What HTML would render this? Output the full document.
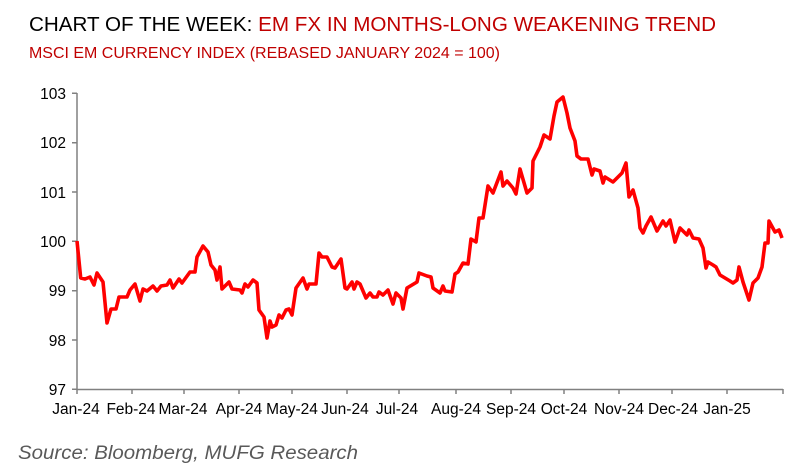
<!DOCTYPE html>
<html><head><meta charset="utf-8"><style>
html,body{margin:0;padding:0;background:#fff;width:811px;height:467px;overflow:hidden}
svg{display:block;font-family:"Liberation Sans",Arial,sans-serif}
</style></head><body>
<svg width="811" height="467" viewBox="0 0 811 467">
<text x="29" y="31" font-size="20" textLength="687" lengthAdjust="spacingAndGlyphs"><tspan fill="#000">CHART OF THE WEEK: </tspan><tspan fill="#c00000">EM FX IN MONTHS-LONG WEAKENING TREND</tspan></text>
<text x="29" y="58" font-size="16" fill="#c00000" textLength="471" lengthAdjust="spacingAndGlyphs">MSCI EM CURRENCY INDEX (REBASED JANUARY 2024 = 100)</text>
<g stroke="#808080" stroke-width="1.5" fill="none">
<line x1="77" y1="93" x2="77" y2="389.5"/>
<line x1="77" y1="389.5" x2="783" y2="389.5"/>
<path d="M72 93.3H77M72 142.7H77M72 192H77M72 241.3H77M72 290.7H77M72 340H77M72 389.3H77"/>
<path d="M77 389v5M132 389v5M184 389v5M239 389v5M292 389v5M347 389v5M399 389v5M456 389v5M511 389v5M564 389v5M619 389v5M672 389v5M727 389v5M783 389v5"/>
</g>
<g font-size="15.5" fill="#000" text-anchor="end">
<text x="66" y="99">103</text><text x="66" y="148">102</text><text x="66" y="198">101</text><text x="66" y="247">100</text><text x="66" y="296">99</text><text x="66" y="346">98</text><text x="66" y="395">97</text>
</g>
<g font-size="15.5" fill="#000" text-anchor="middle">
<text x="76" y="414">Jan-24</text><text x="131" y="414">Feb-24</text><text x="183" y="414">Mar-24</text><text x="239" y="414">Apr-24</text><text x="292" y="414">May-24</text><text x="345" y="414">Jun-24</text><text x="397" y="414">Jul-24</text><text x="456" y="414">Aug-24</text><text x="511" y="414">Sep-24</text><text x="564" y="414">Oct-24</text><text x="619" y="414">Nov-24</text><text x="673" y="414">Dec-24</text><text x="727" y="414">Jan-25</text>
</g>
<polyline fill="none" stroke="#ff0000" stroke-width="3.6" stroke-linejoin="round" points="77,241 80.7,278 85,279 90,277 94,285 97,273 103,282 107,323 111,309 116,309 119,297 127,297 130,290 135,284 140,301 143,289 147,291 153,286 157,291 161,286 167,285 170,280 173,288 179,279 182,283 190,272 195,272 197,257 203,246 208,252 211,265 215,270 217,280 220,267 222,289 229,282 232,289 240,290 242,293 245,284 248,287 253,280 257,283 259,310 264,317 267,338 270,321 272,327 276,325 279,315 282,318 286,310 289,309 292,315 296,288 303,278 307,289 309,284 316,284 319,253 322,257 327,257 332,267 335,268 341,259 345,288 347,289 352,282 354,289 357,282 360,284 366,298 370,293 373,297 377,297 379,292 383,295 388,290 393,304 396,293 401,298 403,309 407,288 417,282 419,273 427,276 431,277 433,288 440,293 443,286 445,291 452,292 455,274 458,272 463,263 468,264 471,239 476,242 479,218 483,218 488,186 493,193 501,172 503,186 507,181 513,188 516,194 520,169 527,193 532,188 533,161 540,147 544,135 550,139 554,116 557,102 563,97 567,113 570,128 575,141 577,156 581,159 588,159 592,175 594,169 600,171 603,183 605,177 613,182 618,177 622,173 626,163 629,197 633,190 638,208 640,228 643,233 646,226 651,217 657,231 663,221 666,226 670,220 675,242 680,228 687,235 689,230 693,238 699,239 703,248 706,268 708,262 713,265 716,267 720,275 730,281 733,283 737,280 739,267 743,282 749,300 753,283 758,278 762,267 765,243 768,243 769,221 775,232 779,230 782,238"/>
<text x="18" y="459" font-size="19" font-style="italic" fill="#595959" textLength="340" lengthAdjust="spacingAndGlyphs">Source: Bloomberg, MUFG Research</text>
</svg>
</body></html>
